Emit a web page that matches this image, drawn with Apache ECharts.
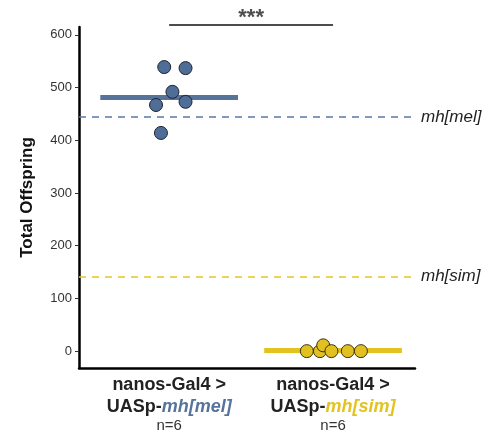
<!DOCTYPE html>
<html><head><meta charset="utf-8">
<script src="https://cdn.jsdelivr.net/npm/echarts@6/dist/echarts.min.js"></script>
<style>html,body{margin:0;padding:0;background:#fff}#c{width:492px;height:440px}</style>
</head><body><div id="c"></div>
<script>
const categories = ['mh[mel]', 'mh[sim]'];
const groupLabels = ['nanos-Gal4 >', 'nanos-Gal4 >'];
const nLabels = ['n=6', 'n=6'];
const melValues = [539, 537, 492, 467, 473, 414];
const melJitter = [-0.03, 0.10, 0.02, -0.08, 0.10, -0.05];
const simValues = [0, 0, 11, 0, 0, 0];
const simJitter = [-0.16, -0.08, -0.06, -0.01, 0.09, 0.17];
const medians = [482, 2];
const refLines = [444, 142];
const yTicks = [0, 100, 200, 300, 400, 500, 600];
const sigPair = [1, 2];
const sigText = '***';

const blue = '#56739c', yellow = '#e4c21f';
const font = 'Liberation Sans, Arial, sans-serif';

function pts(vals, jit, idx) { return vals.map((v, i) => [idx + 1 + jit[i], v]); }

const chart = echarts.init(document.getElementById('c'));
chart.setOption({
  animation: false,
  grid: [
    { left: 79, right: 77, top: 27, bottom: 72 },
    { left: 79, right: 77, top: 0, height: 30 }
  ],
  xAxis: [{
    type: 'value', min: 0.45, max: 2.5,
    splitLine: { show: false },
    axisLine: { show: true, onZero: false, lineStyle: { color: '#000', width: 2.5 } },
    axisTick: { show: false },
    axisLabel: {
      customValues: [1, 2], margin: 6, fontFamily: font,
      formatter: v => {
        const i = Math.round(v) - 1;
        const key = i === 0 ? 'mel' : 'sim';
        return '{b|' + groupLabels[i] + '}\n{b|UASp-}{' + key + '|' + categories[i] + '}\n{n|' + nLabels[i] + '}';
      },
      rich: {
        b: { fontFamily: font, fontWeight: 'bold', fontSize: 18, color: '#222', lineHeight: 22 },
        mel: { fontFamily: font, fontWeight: 'bold', fontStyle: 'italic', fontSize: 18, color: blue, lineHeight: 22 },
        sim: { fontFamily: font, fontWeight: 'bold', fontStyle: 'italic', fontSize: 18, color: yellow, lineHeight: 22 },
        n: { fontFamily: font, fontSize: 15, color: '#333', lineHeight: 15 }
      }
    }
  }, {
    gridIndex: 1, type: 'value', min: 0.45, max: 2.5, show: false
  }],
  yAxis: [{
    type: 'value', min: -32, max: 615,
    name: 'Total Offspring', nameLocation: 'middle', nameGap: 43,
    nameTextStyle: { fontFamily: font, fontWeight: 'bold', fontSize: 17, color: '#111' },
    splitLine: { show: false },
    axisLine: { show: true, onZero: false, lineStyle: { color: '#000', width: 2.5 } },
    axisTick: { show: true, customValues: yTicks, length: 4, lineStyle: { color: '#333', width: 1 } },
    axisLabel: { customValues: yTicks, margin: 7, fontFamily: font, fontSize: 13, color: '#333' }
  }, {
    gridIndex: 1, type: 'value', min: 0, max: 30, show: false
  }],
  series: [
    {
      type: 'line', data: [], silent: true,
      markLine: {
        symbol: 'none', silent: true,
        data: refLines.map((v, i) => ({
          yAxis: v,
          lineStyle: { type: [7, 6], width: 1.6, color: i === 0 ? '#5a78a5' : '#e8c520' },
          label: { show: true, position: 'end', distance: 6, formatter: categories[i], fontFamily: font, fontStyle: 'italic', fontSize: 17, color: '#222' }
        }))
      }
    },
    {
      type: 'scatter', data: [], silent: true,
      markLine: {
        symbol: 'none', silent: true, z: 1,
        data: medians.map((m, i) => [
          { coord: [i + 1 - 0.42, m], lineStyle: { type: 'solid', width: 5, color: i === 0 ? blue : yellow } },
          { coord: [i + 1 + 0.42, m] }
        ]),
        label: { show: false }
      }
    },
    {
      type: 'scatter', data: pts(melValues, melJitter, 0), symbolSize: 13, z: 5,
      itemStyle: { color: '#4f6e97', borderColor: '#1c2430', borderWidth: 1, opacity: 1 }
    },
    {
      type: 'scatter', data: pts(simValues, simJitter, 1), symbolSize: 13, z: 5,
      itemStyle: { color: '#e3c022', borderColor: '#3a3210', borderWidth: 1, opacity: 1 }
    },
    {
      type: 'line', xAxisIndex: 1, yAxisIndex: 1, silent: true, symbol: 'none',
      data: sigPair.map(x => [x, 5]),
      lineStyle: { color: '#111', width: 1.6 }
    },
    {
      type: 'scatter', xAxisIndex: 1, yAxisIndex: 1, silent: true, symbolSize: 0,
      data: [[(sigPair[0] + sigPair[1]) / 2, 5]],
      label: { show: true, position: 'top', distance: -4, formatter: sigText, fontFamily: font, fontWeight: 'bold', fontSize: 22, color: '#222' }
    }
  ]
});
</script></body></html>
